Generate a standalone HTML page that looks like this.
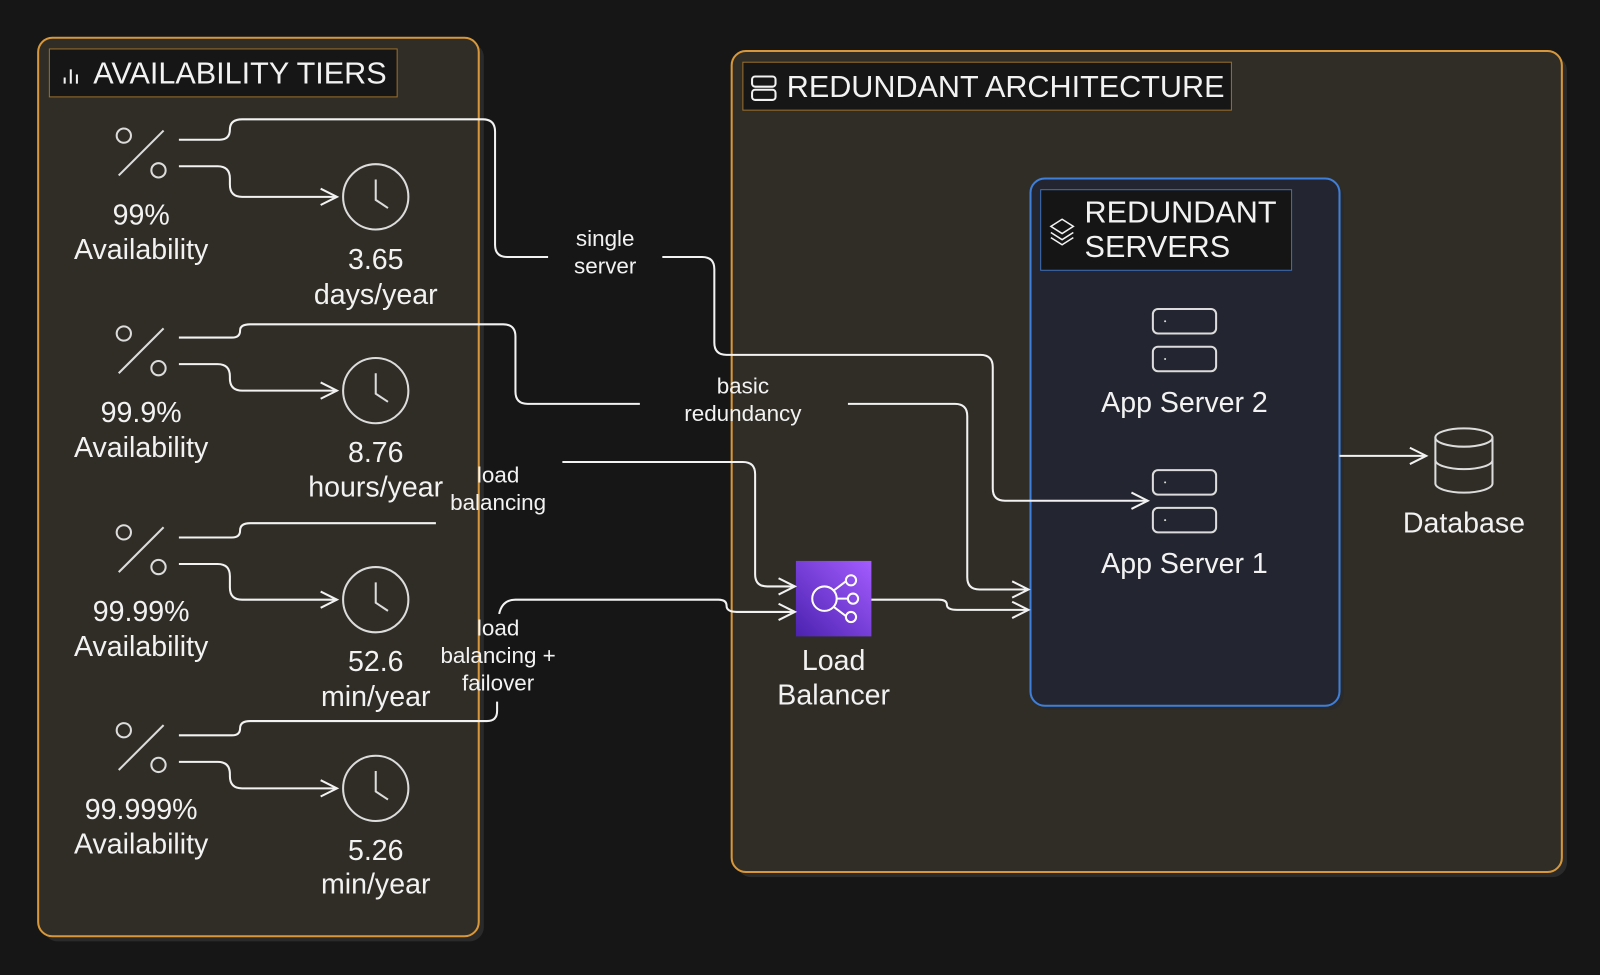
<!DOCTYPE html>
<html><head><meta charset="utf-8"><style>
html,body{margin:0;padding:0;background:#161616;}
svg{display:block;}
text{font-family:"Liberation Sans",sans-serif;fill:#f2f2f2;}
</style></head><body>
<svg width="1600" height="975" viewBox="0 0 1568 956" xmlns="http://www.w3.org/2000/svg">
<defs>
<marker id="a" markerWidth="20" markerHeight="20" refX="17" refY="10" orient="auto" markerUnits="userSpaceOnUse">
<path d="M1,2 L17,10 L1,18" fill="none" stroke="#f2f2f2" stroke-width="2"/>
</marker>
<linearGradient id="lb" x1="1" y1="0" x2="0" y2="1"><stop offset="0" stop-color="#a45cff"/><stop offset="1" stop-color="#4b22b0"/></linearGradient>
</defs>
<rect width="1568" height="956" fill="#161616"/>
<!-- left panel -->
<rect x="42" y="42" width="432" height="881" rx="14" fill="#2a2a2a"/>
<rect x="37" y="37" width="432" height="881" rx="14" fill="#302d26" stroke="#d8983a" stroke-width="2"/>
<rect x="48" y="48" width="341" height="47" fill="#161616" stroke="#9a6f2e" stroke-width="1"/>
<g stroke="#f2f2f2" stroke-width="2"><line x1="63" y1="82" x2="63" y2="76"/><line x1="69" y1="82" x2="69" y2="68"/><line x1="75" y1="82" x2="75" y2="73"/></g>
<text x="91" y="82" font-size="30">AVAILABILITY TIERS</text>
<!-- right panel -->
<rect x="722" y="55" width="814" height="805" rx="14" fill="#2a2a2a"/>
<rect x="717" y="50" width="814" height="805" rx="14" fill="#302d26" stroke="#d8983a" stroke-width="2"/>
<rect x="728" y="61" width="479" height="47" fill="#161616" stroke="#9a6f2e" stroke-width="1"/>
<g fill="none" stroke="#f2f2f2" stroke-width="2"><rect x="737" y="75" width="23" height="10" rx="3"/><rect x="737" y="88" width="23" height="10" rx="3"/></g>
<text x="771" y="95" font-size="30">REDUNDANT ARCHITECTURE</text>
<!-- blue box -->
<rect x="1014" y="179" width="303" height="517" rx="14" fill="#2a2a2a"/>
<rect x="1010" y="175" width="303" height="517" rx="14" fill="#232630" stroke="#3f7fd9" stroke-width="2"/>
<rect x="1020" y="186" width="246" height="79" fill="#151515" stroke="#3f6fb9" stroke-width="1"/>
<g fill="none" stroke="#f2f2f2" stroke-width="1.5"><path d="M1030,222 L1041,215 L1052,222 L1041,229 Z"/><path d="M1030,228 L1041,235 L1052,228"/><path d="M1030,233 L1041,240 L1052,233"/></g>
<text x="1063" y="218" font-size="30">REDUNDANT</text>
<text x="1063" y="252" font-size="30">SERVERS</text>
<g fill="none" stroke="#dcdcdc" stroke-width="2">
<rect x="1130" y="303" width="62" height="24" rx="5"/><rect x="1130" y="340" width="62" height="24" rx="5"/>
<rect x="1130" y="461" width="62" height="24" rx="5"/><rect x="1130" y="498" width="62" height="24" rx="5"/>
</g>
<g fill="#dcdcdc"><circle cx="1142" cy="315" r="1"/><circle cx="1142" cy="352" r="1"/><circle cx="1142" cy="473" r="1"/><circle cx="1142" cy="510" r="1"/></g>
<text x="1161" y="404" font-size="28" text-anchor="middle">App Server 2</text>
<text x="1161" y="562" font-size="28" text-anchor="middle">App Server 1</text>
<!-- database -->
<g fill="none" stroke="#dcdcdc" stroke-width="2">
<ellipse cx="1435" cy="429" rx="28" ry="9"/>
<path d="M1407,429 V474 A28,9 0 0 0 1463,474 V429"/>
<path d="M1407,451 A28,9 0 0 0 1463,451"/>
</g>
<text x="1435" y="522" font-size="28" text-anchor="middle">Database</text>
<!-- load balancer -->
<rect x="780" y="550" width="74" height="74" fill="url(#lb)"/>
<g fill="none" stroke="#fff" stroke-width="2"><circle cx="808" cy="587" r="12"/><circle cx="834" cy="569" r="5"/><circle cx="836" cy="587" r="5"/><circle cx="834" cy="605" r="5"/><path d="M820,587 H831 M817,579 L829,570 M817,595 L829,604"/></g>
<text x="817" y="657" font-size="28" text-anchor="middle">Load</text>
<text x="817" y="691" font-size="28" text-anchor="middle">Balancer</text>
<!-- tiers -->
<g id="tiers" fill="none" stroke="#dcdcdc" stroke-width="2">
<circle cx="121" cy="133" r="7"/><circle cx="155" cy="167" r="7"/><line x1="116" y1="172" x2="160" y2="128"/>
<circle cx="121" cy="327" r="7"/><circle cx="155" cy="361" r="7"/><line x1="116" y1="366" x2="160" y2="322"/>
<circle cx="121" cy="522" r="7"/><circle cx="155" cy="556" r="7"/><line x1="116" y1="561" x2="160" y2="517"/>
<circle cx="121" cy="716" r="7"/><circle cx="155" cy="750" r="7"/><line x1="116" y1="755" x2="160" y2="711"/>
<circle cx="368" cy="193" r="32"/><path d="M368,176 V196 L380,204"/>
<circle cx="368" cy="383" r="32"/><path d="M368,366 V386 L380,394"/>
<circle cx="368" cy="588" r="32"/><path d="M368,571 V591 L380,599"/>
<circle cx="368" cy="773" r="32"/><path d="M368,756 V776 L380,784"/>
</g>
<g font-size="28" text-anchor="middle">
<text x="138" y="220">99%</text><text x="138" y="254">Availability</text>
<text x="368" y="264">3.65</text><text x="368" y="298">days/year</text>
<text x="138" y="414">99.9%</text><text x="138" y="448">Availability</text>
<text x="368" y="453">8.76</text><text x="368" y="487">hours/year</text>
<text x="138" y="609">99.99%</text><text x="138" y="643">Availability</text>
<text x="368" y="658">52.6</text><text x="368" y="692">min/year</text>
<text x="138" y="803">99.999%</text><text x="138" y="837">Availability</text>
<text x="368" y="843">5.26</text><text x="368" y="876">min/year</text>
</g>
<!-- connectors -->
<g fill="none" stroke="#f2f2f2" stroke-width="2">
<path d="M175,137 H215 Q225,137 225,127 Q225,117 237,117 H473 Q485,117 485,129 V240 Q485,252 497,252 H537"/>
<path d="M649,252 H688 Q700,252 700,264 V336 Q700,348 712,348 H961 Q973,348 973,360 V479 Q973,491 985,491 H1125" marker-end="url(#a)"/>
<path d="M175,163 H213 Q225,163 225,175 V181 Q225,193 237,193 H330" marker-end="url(#a)"/>
<path d="M175,331 H227 Q235,331 235,324 Q235,318 245,318 H493 Q505,318 505,330 V384 Q505,396 517,396 H627"/>
<path d="M831,396 H936 Q948,396 948,408 V566 Q948,578 960,578 H1008" marker-end="url(#a)"/>
<path d="M175,357 H213 Q225,357 225,369 V371 Q225,383 237,383 H330" marker-end="url(#a)"/>
<path d="M175,527 H227 Q235,527 235,520 Q235,513 245,513 H427"/>
<path d="M551,453 H728 Q740,453 740,465 V563 Q740,575 752,575 H779" marker-end="url(#a)"/>
<path d="M175,553 H213 Q225,553 225,565 V576 Q225,588 237,588 H330" marker-end="url(#a)"/>
<path d="M175,721 H227 Q235,721 235,714 Q235,707 245,707 H477 Q487,707 487,697 V688"/>
<path d="M489,602 Q492,588 505,588 H704 Q712,588 712,594 Q712,600 722,600 H779" marker-end="url(#a)"/>
<path d="M175,747 H213 Q225,747 225,759 V761 Q225,773 237,773 H330" marker-end="url(#a)"/>
<path d="M854,588 H920 Q928,588 928,593 Q928,598 938,598 H1008" marker-end="url(#a)"/>
<path d="M1313,447 H1398" marker-end="url(#a)"/>
</g>
<g font-size="22" text-anchor="middle">
<text x="593" y="241">single</text><text x="593" y="268">server</text>
<text x="728" y="386">basic</text><text x="728" y="413">redundancy</text>
<text x="488" y="473">load</text><text x="488" y="500">balancing</text>
<text x="488" y="623">load</text><text x="488" y="650">balancing +</text><text x="488" y="677">failover</text>
</g>
</svg>
</body></html>
